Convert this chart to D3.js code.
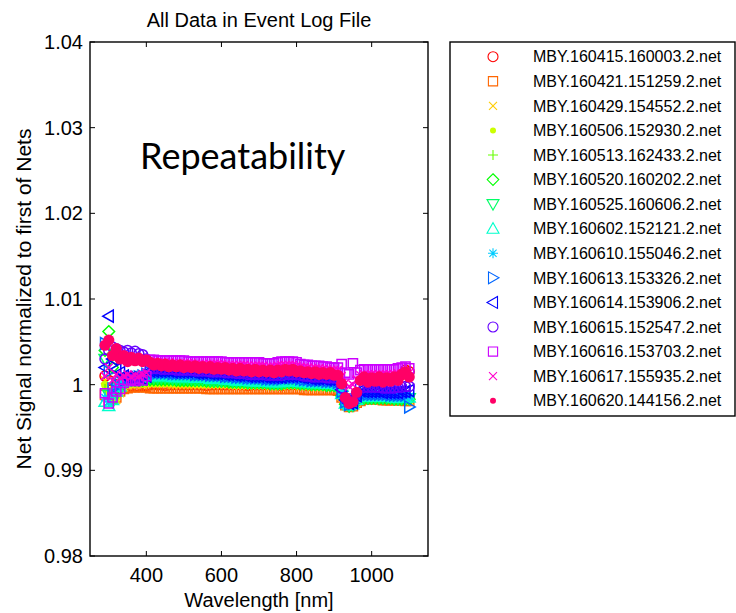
<!DOCTYPE html>
<html><head><meta charset="utf-8">
<script src="https://cdn.jsdelivr.net/npm/d3@7"></script>
<style>body{margin:0;background:#fff}text{font-family:"Liberation Sans",Arial,sans-serif;fill:#000}</style>
</head><body><svg id="c" width="736" height="613"></svg>
<script>
const wavelengths=[290,300,310,320,330,340,350,360,370,380,390,400,410,420,430,440,450,460,470,480,490,500,510,520,530,540,550,560,570,580,590,600,610,620,630,640,650,660,670,680,690,700,710,720,730,740,750,760,770,780,790,800,810,820,830,840,850,860,870,880,890,900,910,920,930,940,950,960,970,980,990,1000,1010,1020,1030,1040,1050,1060,1070,1080,1090,1100];
const seriesNames=["MBY.160415.160003.2.net","MBY.160421.151259.2.net","MBY.160429.154552.2.net","MBY.160506.152930.2.net","MBY.160513.162433.2.net","MBY.160520.160202.2.net","MBY.160525.160606.2.net","MBY.160602.152121.2.net","MBY.160610.155046.2.net","MBY.160613.153326.2.net","MBY.160614.153906.2.net","MBY.160615.152547.2.net","MBY.160616.153703.2.net","MBY.160617.155935.2.net","MBY.160620.144156.2.net"];
const seriesMarkers=["o","s","x",".","+","d","v","^","*",">","<","o","s","x","."];
const seriesColors=["#FF0000","#FF6600","#FFCC00","#CCFF00","#66FF00","#00FF00","#00FF66","#00FFCC","#00CCFF","#0066FF","#0000FF","#6600FF","#CC00FF","#FF00CC","#FF0066"];
const xTicks=[400,600,800,1000];
const yTicks=[0.98,0.99,1.00,1.01,1.02,1.03,1.04];
const yTickLabels=["0.98","0.99","1","1.01","1.02","1.03","1.04"];

const s160415=[1.001,1.0005,0.9997,1,0.9998,0.9999,0.9998,0.9999,0.9998,0.9998,0.9999,0.9999,
1,1.0001,1,1,0.9999,1,1,1.0001,1,1,
1,1,1.0001,1,1,0.9999,1,1,1.0001,1,
1,1,1,1.0001,1,1,0.9999,1,1,1,
1,1.0001,1,1,1,0.9999,1,1,1.0001,1,
1,1,0.9999,1,1,1.0001,1,1,0.9999,1,
1,0.999,0.9978,0.9975,0.9976,0.9982,0.9985,
0.9985,0.9985,0.9985,0.9985,0.9984,0.9984,0.9984,0.9984,0.9985,0.9985,1.0012,1.0017,1.0015];
const s160421=[0.9988,0.998,0.999,0.9985,0.9992,0.9995,0.9996,0.9997,0.9997,0.9997,0.9997,0.9997,
0.9996,0.9996,0.9996,0.9996,0.9996,0.9996,0.9996,0.9996,0.9996,0.9996,
0.9996,0.9996,0.9996,0.9996,0.9996,0.9995,0.9995,0.9995,0.9995,0.9995,
0.9995,0.9995,0.9995,0.9995,0.9995,0.9995,0.9995,0.9995,0.9995,0.9995,
0.9995,0.9995,0.9995,0.9995,0.9995,0.9995,0.9995,0.9995,0.9995,0.9995,
0.9995,0.9994,0.9994,0.9994,0.9994,0.9994,0.9994,0.9994,0.9994,0.9994,
0.9993,0.9985,0.9976,0.9974,0.9975,0.9979,0.9981,
0.9983,0.9983,0.9983,0.9983,0.9983,0.9982,0.9982,0.9982,0.9982,0.9982,0.9982,0.9981,0.9981];
const s160429=[1.0005,0.9995,0.9985,0.9982,0.999,0.9997,0.9999,1,1,1.0001,1,1.0001,
1.0001,1.0001,1.0001,1.0001,1.0001,1.0001,1,1,1,1,
1,1,1,1,1,1,1,1,1,1,
1,1,0.9999,0.9999,0.9999,0.9999,0.9999,0.9999,0.9999,0.9999,
0.9999,0.9999,0.9998,0.9998,0.9998,0.9998,0.9999,0.9999,0.9999,0.9999,
0.9998,0.9998,0.9998,0.9997,0.9997,0.9997,0.9997,0.9997,0.9997,0.9997,
0.9996,0.9986,0.9976,0.9974,0.9975,0.9979,0.9982,
0.9983,0.9983,0.9983,0.9983,0.9983,0.9983,0.9983,0.9983,0.9982,0.9982,0.9982,0.9982,0.9981];
const s160506=[1,0.999,0.9982,0.9984,0.9992,0.9998,1,1.0001,1.0001,1.0002,1.0001,1.0002,
1.0002,1.0002,1.0002,1.0002,1.0002,1.0002,1.0002,1.0002,1.0002,1.0002,
1.0002,1.0002,1.0001,1.0001,1.0001,1.0001,1.0001,1.0001,1.0001,1.0001,
1.0001,1.0001,1,1,1,1,1,1,1,1,
1,1,0.9999,0.9999,0.9999,0.9999,1,1,1,1,
0.9999,0.9999,0.9999,0.9998,0.9998,0.9998,0.9998,0.9997,0.9997,0.9997,
0.9997,0.9986,0.9977,0.9975,0.9975,0.9979,0.9983,
0.9983,0.9983,0.9983,0.9983,0.9983,0.9983,0.9983,0.9982,0.9982,0.9982,0.9982,0.9982,0.9982];
const s160513=[0.9995,0.9985,0.9978,0.9988,0.9994,1,1.0002,1.0003,1.0003,1.0003,1.0003,1.0004,
1.0004,1.0004,1.0004,1.0004,1.0004,1.0004,1.0004,1.0004,1.0003,1.0003,
1.0003,1.0003,1.0003,1.0003,1.0003,1.0003,1.0003,1.0002,1.0002,1.0002,
1.0002,1.0002,1.0002,1.0001,1.0001,1.0001,1.0001,1.0001,1.0001,1.0001,
1.0001,1.0001,1,1,1,1,1.0001,1.0001,1.0001,1.0001,
1,1,1,0.9999,0.9999,0.9999,0.9999,0.9998,0.9998,0.9998,
0.9997,0.9987,0.9977,0.9975,0.9976,0.998,0.9984,
0.9984,0.9984,0.9984,0.9984,0.9984,0.9984,0.9984,0.9984,0.9983,0.9983,0.9983,0.9983,0.9983];
const s160520=[1.004,1.0062,1.002,0.9995,0.9996,1.0002,1.0004,1.0005,1.0005,1.0005,1.0005,1.0006,
1.0006,1.0006,1.0006,1.0006,1.0006,1.0006,1.0006,1.0005,1.0005,1.0005,
1.0005,1.0005,1.0005,1.0005,1.0005,1.0004,1.0004,1.0004,1.0004,1.0004,
1.0004,1.0003,1.0003,1.0003,1.0003,1.0003,1.0002,1.0002,1.0002,1.0002,
1.0002,1.0002,1.0001,1.0001,1.0001,1.0001,1.0002,1.0002,1.0002,1.0002,
1.0001,1.0001,1.0001,1,1,1,1,0.9999,0.9999,0.9999,
0.9998,0.9987,0.9977,0.9975,0.9976,0.998,0.9985,
0.9984,0.9984,0.9984,0.9984,0.9984,0.9984,0.9984,0.9984,0.9983,0.9983,0.9983,0.9983,0.9983];
const s160525=[1.003,0.9988,0.998,0.999,0.9997,1.0003,1.0005,1.0006,1.0007,1.0007,1.0007,1.0008,
1.0008,1.0008,1.0008,1.0008,1.0008,1.0008,1.0007,1.0007,1.0007,1.0007,
1.0007,1.0007,1.0006,1.0006,1.0006,1.0006,1.0005,1.0005,1.0005,1.0005,
1.0005,1.0005,1.0004,1.0004,1.0004,1.0004,1.0003,1.0003,1.0003,1.0003,
1.0003,1.0003,1.0002,1.0002,1.0002,1.0002,1.0003,1.0003,1.0003,1.0003,
1.0002,1.0002,1.0002,1.0001,1.0001,1.0001,1.0001,1,1,1,
0.9999,0.9988,0.9978,0.9975,0.9976,0.9981,0.9986,
0.9985,0.9985,0.9985,0.9985,0.9985,0.9985,0.9985,0.9985,0.9984,0.9984,0.9984,0.9984,0.9984];
const s160602=[0.998,0.9975,0.9982,0.9992,0.9998,1.0004,1.0006,1.0008,1.0008,1.0009,1.0009,1.001,
1.001,1.001,1.001,1.001,1.001,1.001,1.0009,1.0009,1.0009,1.0009,
1.0009,1.0009,1.0008,1.0008,1.0008,1.0008,1.0007,1.0007,1.0007,1.0007,
1.0006,1.0006,1.0006,1.0005,1.0005,1.0005,1.0005,1.0004,1.0004,1.0004,
1.0004,1.0004,1.0003,1.0003,1.0003,1.0003,1.0004,1.0004,1.0004,1.0004,
1.0003,1.0003,1.0003,1.0002,1.0002,1.0002,1.0002,1.0001,1.0001,1.0001,
1,0.9989,0.9978,0.9976,0.9977,0.9982,0.9987,
0.9986,0.9986,0.9986,0.9986,0.9986,0.9986,0.9986,0.9986,0.9985,0.9985,0.9985,0.9985,0.9985];
const s160610=[0.9985,0.998,0.999,0.9997,1,1.0005,1.0008,1.0009,1.001,1.001,1.0011,1.0012,
1.0012,1.0012,1.0012,1.0012,1.0012,1.0012,1.0011,1.0011,1.0011,1.0011,
1.0011,1.0011,1.001,1.001,1.001,1.001,1.0009,1.0009,1.0009,1.0009,
1.0008,1.0008,1.0008,1.0007,1.0007,1.0007,1.0006,1.0006,1.0006,1.0006,
1.0006,1.0005,1.0005,1.0005,1.0005,1.0005,1.0006,1.0006,1.0006,1.0006,
1.0005,1.0004,1.0004,1.0003,1.0003,1.0003,1.0003,1.0002,1.0002,1.0002,
1.0001,0.999,0.9979,0.9976,0.9977,0.9983,0.9988,
0.9987,0.9987,0.9987,0.9987,0.9987,0.9987,0.9987,0.9987,0.9986,0.9986,0.9986,0.9986,0.9986];
const s160613=[1.0048,1.0015,0.9995,1,1.0003,1.0005,1.0006,1.0007,1.0008,1.0009,1.001,1.0012,
1.0014,1.0014,1.0014,1.0014,1.0014,1.0014,1.0013,1.0013,1.0013,1.0013,
1.0013,1.0013,1.0012,1.0012,1.0012,1.0012,1.0011,1.0011,1.0011,1.0011,
1.001,1.001,1.001,1.0009,1.0009,1.0009,1.0008,1.0008,1.0008,1.0008,
1.0008,1.0007,1.0007,1.0007,1.0007,1.0007,1.0008,1.0008,1.0008,1.0008,
1.0007,1.0006,1.0006,1.0005,1.0005,1.0005,1.0005,1.0004,1.0004,1.0004,
1.0003,0.9992,0.998,0.9977,0.9978,0.9985,0.999,
0.9989,0.9989,0.9989,0.9989,0.9989,0.9989,0.9989,0.9988,0.9988,0.9988,0.9988,0.9988,0.9974];
const s160614=[1.002,1.008,1.003,1.0018,1.0014,1.001,1.0008,1.0008,1.0006,1.0008,1.0007,1.001,
1.0016,1.0016,1.0016,1.0016,1.0016,1.0016,1.0015,1.0015,1.0015,1.0015,
1.0015,1.0015,1.0014,1.0014,1.0014,1.0014,1.0013,1.0013,1.0013,1.0013,
1.0012,1.0012,1.0012,1.0011,1.0011,1.0011,1.001,1.001,1.001,1.001,
1.001,1.0009,1.0009,1.0009,1.0009,1.0009,1.001,1.001,1.001,1.001,
1.0009,1.0008,1.0008,1.0007,1.0007,1.0007,1.0007,1.0006,1.0006,1.0006,
1.0005,0.9994,0.9982,0.9978,0.9979,0.9987,0.9993,
0.9992,0.9992,0.9992,0.9992,0.9992,0.9991,0.9991,0.9991,0.9991,0.9991,0.9992,0.9992,0.9993];
const s160615=[1.003,1.004,1.0044,1.0042,1.004,1.0038,1.004,1.0037,1.0039,1.0036,1.0035,1.003,
1.0019,1.0019,1.0019,1.0018,1.0018,1.0018,1.0018,1.0017,1.0017,1.0017,
1.0017,1.0017,1.0016,1.0016,1.0016,1.0016,1.0015,1.0015,1.0015,1.0015,
1.0014,1.0014,1.0014,1.0013,1.0013,1.0013,1.0012,1.0012,1.0012,1.0012,
1.0012,1.0011,1.0011,1.0011,1.0011,1.0011,1.0012,1.0012,1.0012,1.0012,
1.0011,1.001,1.001,1.0009,1.0009,1.0009,1.0009,1.0008,1.0008,1.0008,
1.0007,0.9996,0.9984,0.998,0.9981,0.999,0.9998,
0.9997,0.9997,0.9997,0.9997,0.9997,0.9996,0.9996,0.9996,0.9996,0.9997,0.9997,0.9998,0.9998];
const s160616=[0.999,0.9978,0.9985,0.9992,0.9995,1.0002,1.0005,1.0006,1.0004,1.0007,1.0005,1.001,
1.0029,1.0029,1.0028,1.0028,1.0028,1.0028,1.0028,1.0028,1.0028,1.0028,
1.0027,1.0027,1.0027,1.0027,1.0027,1.0027,1.0027,1.0027,1.0027,1.0027,
1.0026,1.0026,1.0026,1.0026,1.0026,1.0026,1.0026,1.0026,1.0026,1.0026,
1.0025,1.0025,1.0025,1.0025,1.0026,1.0027,1.0027,1.0027,1.0027,1.0026,
1.0024,1.0023,1.0023,1.0022,1.0022,1.0022,1.0021,1.0021,1.002,1.002,
1.002,1.0024,1.0014,1.0012,1.0025,1.0014,1.0017,
1.0018,1.0018,1.0018,1.0018,1.0018,1.0018,1.0018,1.0018,1.0018,1.0019,1.002,1.0021,1.0019];
const s160617=[1.001,1.002,1.0005,1.0012,1.0008,1.001,1.0012,1.0009,1.0011,1.001,1.0012,1.0014,
1.0027,1.0027,1.0026,1.0026,1.0026,1.0026,1.0025,1.0025,1.0025,1.0025,
1.0025,1.0025,1.0024,1.0024,1.0024,1.0024,1.0024,1.0024,1.0024,1.0024,
1.0023,1.0023,1.0023,1.0023,1.0023,1.0023,1.0022,1.0022,1.0022,1.0022,
1.0022,1.0021,1.0021,1.0021,1.0022,1.0023,1.0023,1.0023,1.0023,1.0022,
1.0021,1.002,1.002,1.0019,1.0019,1.0019,1.0018,1.0018,1.0017,1.0017,
1.0017,1.001,1.0002,0.9998,1,1.0006,1.0011,
1.0012,1.0012,1.0012,1.0012,1.0012,1.0012,1.0012,1.0012,1.0012,1.0013,1.0013,1.0014,1.0014];
const s160620=[1.0046,1.0052,1.0034,1.0042,1.003,1.0034,1.0027,1.0032,1.0028,1.0031,1.0027,1.0029,
1.0026,1.0023,1.0025,1.0022,1.0024,1.0021,1.0023,1.0021,1.0023,1.002,
1.0022,1.002,1.0022,1.0019,1.0021,1.0019,1.0021,1.0018,1.002,1.0018,
1.002,1.0017,1.0019,1.0016,1.0019,1.0016,1.0018,1.0015,1.0018,1.0015,
1.0017,1.0015,1.0017,1.0014,1.0017,1.0015,1.0018,1.0016,1.0018,1.0015,
1.0016,1.0014,1.0015,1.0013,1.0015,1.0012,1.0014,1.0012,1.0014,1.0011,
1.0011,1.0001,0.9985,0.9978,0.998,0.9991,1.0005,
1.0009,1.0003,1.0008,1.0004,1.0009,1.0003,1.0008,1.0004,1.0009,1.0005,1.0012,1.0015,1.0009];

const seriesValues=[s160415,s160421,s160429,s160506,s160513,s160520,s160525,s160602,s160610,s160613,s160614,s160615,s160616,s160617,s160620];

const svg=d3.select("#c");
const L=90,R=428,T=42,B=556;
const x=d3.scaleLinear().domain([250,1150]).range([L,R]);
const y=d3.scaleLinear().domain([0.98,1.04]).range([B,T]);

function symPath(m,dotR){
  switch(m){
    case "o":{const h=5;return `M${h},0A${h},${h} 0 1,1 ${-h},0A${h},${h} 0 1,1 ${h},0Z`;}
    case "s":{const h=4.6;return `M${-h},${-h}H${h}V${h}H${-h}Z`;}
    case "x":{const h=4;return `M${-h},${-h}L${h},${h}M${-h},${h}L${h},${-h}`;}
    case "+":{const h=5;return `M${-h},0H${h}M0,${-h}V${h}`;}
    case "d":{const h=5.8;return `M0,${-h}L${h},0L0,${h}L${-h},0Z`;}
    case "v":{return "M-6,-4.5L6,-4.5L0,6Z";}
    case "^":{return "M-6,4.5L6,4.5L0,-6Z";}
    case ">":{return "M-4.5,-6L-4.5,6L6,0Z";}
    case "<":{return "M4.5,-6L4.5,6L-6,0Z";}
    case "*":{const h=5,k=3.6;return `M${-h},0H${h}M0,${-h}V${h}M${-k},${-k}L${k},${k}M${-k},${k}L${k},${-k}`;}
    case ".":{const h=dotR;return `M${h},0A${h},${h} 0 1,1 ${-h},0A${h},${h} 0 1,1 ${h},0Z`;}
  }
}

svg.append("defs").append("clipPath").attr("id","pc").append("rect")
  .attr("x",L).attr("y",T).attr("width",R-L).attr("height",B-T);

const plot=svg.append("g").attr("clip-path","url(#pc)");
seriesValues.forEach((vals,i)=>{
  const m=seriesMarkers[i],c=seriesColors[i];
  const d=symPath(m,i===14?5.6:4);
  plot.append("g").selectAll("path").data(vals.map((v,j)=>[wavelengths[j],v])).join("path")
    .attr("d",d)
    .attr("transform",p=>`translate(${x(p[0])},${y(p[1])})`)
    .attr("fill",m==="."?c:"none")
    .attr("stroke",m==="."?"none":c)
    .attr("stroke-width",1.5);
});

const ax=svg.append("g");
ax.append("rect").attr("x",L).attr("y",T).attr("width",R-L).attr("height",B-T)
  .attr("fill","none").attr("stroke","#000").attr("stroke-width",1.4);
const tl=5;
xTicks.forEach(t=>{
  ax.append("line").attr("x1",x(t)).attr("x2",x(t)).attr("y1",B).attr("y2",B-tl).attr("stroke","#000");
  ax.append("line").attr("x1",x(t)).attr("x2",x(t)).attr("y1",T).attr("y2",T+tl).attr("stroke","#000");
  ax.append("text").attr("x",x(t)).attr("y",582).attr("text-anchor","middle").attr("font-size",20).text(t);
});
yTicks.forEach((t,i)=>{
  ax.append("line").attr("x1",L).attr("x2",L+tl).attr("y1",y(t)).attr("y2",y(t)).attr("stroke","#000");
  ax.append("line").attr("x1",R).attr("x2",R-tl).attr("y1",y(t)).attr("y2",y(t)).attr("stroke","#000");
  ax.append("text").attr("x",83).attr("y",y(t)+7).attr("text-anchor","end").attr("font-size",20).text(yTickLabels[i]);
});

svg.append("text").attr("x",(L+R)/2).attr("y",27).attr("text-anchor","middle").attr("font-size",20).text("All Data in Event Log File");
svg.append("text").attr("x",(L+R)/2).attr("y",607).attr("text-anchor","middle").attr("font-size",20).text("Wavelength [nm]");
svg.append("text").attr("transform",`translate(31,${(T+B)/2}) rotate(-90)`).attr("text-anchor","middle").attr("font-size",21).text("Net Signal normalized to first of Nets");
svg.append("text").attr("x",140).attr("y",169).attr("font-size",36).style("font-family","Lato, 'Open Sans', sans-serif").text("Repeatability");

const lg=svg.append("g");
lg.append("rect").attr("x",450).attr("y",42).attr("width",285).attr("height",374)
  .attr("fill","#fff").attr("stroke","#000").attr("stroke-width",1.4);
seriesNames.forEach((n,i)=>{
  const yy=56.7+i*24.57;
  const m=seriesMarkers[i],c=seriesColors[i];
  lg.append("path").attr("d",symPath(m,3)).attr("transform",`translate(493,${yy})`)
    .attr("fill",m==="."?c:"none").attr("stroke",m==="."?"none":c).attr("stroke-width",1.1);
  lg.append("text").attr("x",533).attr("y",yy+5.7).attr("font-size",16).text(n);
});
</script></body></html>
